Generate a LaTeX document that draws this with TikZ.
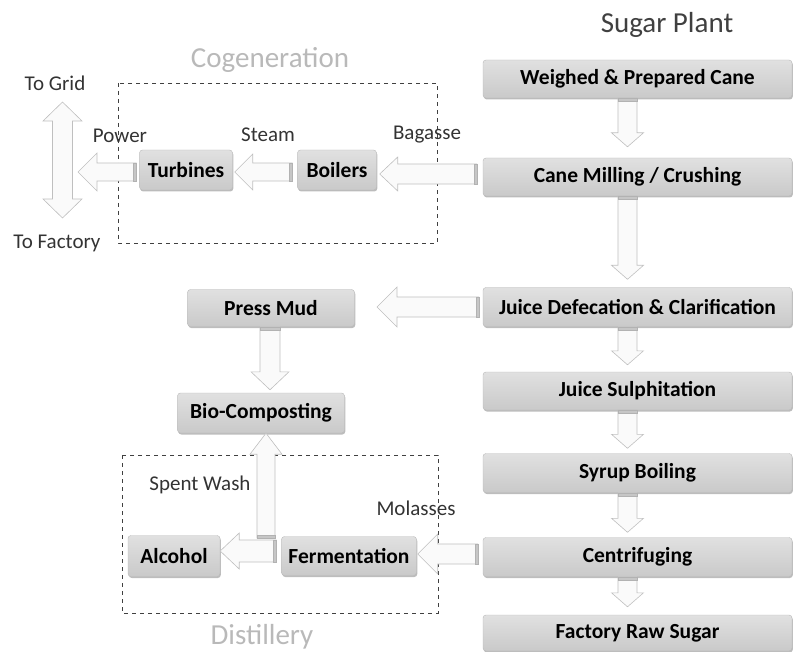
\documentclass[tikz,border=0pt]{standalone}
\usepackage{fontspec}
\setmainfont{Carlito}
\usetikzlibrary{calc,shadows}
\tikzset{
  box/.style={rounded corners=3pt, top color=gray!24, bottom color=gray!42, draw=gray!55,
    drop shadow={shadow xshift=0.8pt, shadow yshift=-1.5pt, fill=gray!65, opacity=0.8},
    font=\fontsize{21.5}{23}\selectfont\bfseries, inner sep=0pt, align=center},
  lbl/.style={font=\fontsize{21}{23}\selectfont, text=black!80, inner sep=0pt},
  ttl/.style={font=\fontsize{29}{31}\selectfont, inner sep=0pt},
  barr/.style={fill=gray!4, draw=gray!50, line width=0.6pt, line join=miter},
  bstripe/.style={fill=gray!45, draw=gray!60, line width=0.4pt},
  zone/.style={draw=black!75, dashed, dash pattern=on 4pt off 4pt, line width=0.9pt}
}
% #1 tail, #2 tip, #3 shaft half, #4 head half, #5 head length, #6 back vector, #7 perpendicular vector
\newcommand\BArrow[7]{%
  \filldraw[barr] ($(#1)+#3*(#7)$) -- ($(#2)+#5*(#6)+#3*(#7)$) -- ($(#2)+#5*(#6)+#4*(#7)$) -- (#2)
    -- ($(#2)+#5*(#6)-#4*(#7)$) -- ($(#2)+#5*(#6)-#3*(#7)$) -- ($(#1)-#3*(#7)$) -- cycle;
  \filldraw[bstripe] ($(#1)+#3*(#7)$) -- ($(#1)+#3*(#7)-3*(#6)$) -- ($(#1)-#3*(#7)-3*(#6)$) -- ($(#1)-#3*(#7)$) -- cycle;
}
\begin{document}
\begin{tikzpicture}[x=1pt,y=-1pt]
\useasboundingbox (0,0) rectangle (795,652);

% zones
\draw[zone] (118,83) rectangle (437,243);
\draw[zone] (122,455) rectangle (438,613);

% titles
\node[ttl, text=black!75] (tsp) at (667,25) {Sugar Plant};
\node[ttl, text=gray!55] (tcg) at (270,60) {Cogeneration};
\node[ttl, text=gray!55] (tds) at (262,637) {Distillery};

% sugar plant chain
\node[box, minimum width=309, minimum height=38] (wpc) at (637.5,79) {Weighed \& Prepared Cane};
\node[box, minimum width=309, minimum height=38] (cmc) at (637.5,177) {Cane Milling / Crushing};
\node[box, minimum width=309, minimum height=39] (jdc) at (637.5,307) {Juice Defecation \& Clarification};
\node[box, minimum width=309, minimum height=38] (jsu) at (637.5,391) {Juice Sulphitation};
\node[box, minimum width=309, minimum height=39] (syb) at (637.5,473) {Syrup Boiling};
\node[box, minimum width=309, minimum height=39] (cen) at (637.5,557) {Centrifuging};
\node[box, minimum width=309, minimum height=36] (frs) at (637.5,633) {Factory Raw Sugar};

% cogeneration
\node[box, minimum width=93, minimum height=40] (tur) at (186,170) {Turbines};
\node[box, minimum width=79, minimum height=40] (boi) at (337,170) {Boilers};

% by-products
\node[box, minimum width=167, minimum height=37] (pmu) at (271,308) {Press Mud};
\node[box, minimum width=167, minimum height=40] (bio) at (261,413) {Bio-Composting};
\node[box, minimum width=92, minimum height=41] (alc) at (174,556) {Alcohol};
\node[box, minimum width=135, minimum height=39] (fer) at (349,556) {Fermentation};

% labels
\node[lbl] (lgrid) at (55,83) {To Grid};
\node[lbl] (lfac) at (57,243) {To Factory};
\node[lbl] (lpow) at (120,136) {Power};
\node[lbl] (lste) at (268,135) {Steam};
\node[lbl] (lbag) at (427,135) {Bagasse};
\node[lbl] (lspw) at (200,485) {Spent Wash};
\node[lbl] (lmol) at (416,508) {Molasses};

% down arrows in the sugar chain
\foreach \a/\b/\g in {wpc/cmc/11, cmc/jdc/8, jdc/jsu/7, jsu/syb/5, syb/cen/5, cen/frs/8}{
  \coordinate (t) at ([xshift=-10pt]\a.south);
  \coordinate (h) at ([xshift=-10pt,yshift=\g pt]\b.north);
  \BArrow{t}{h}{9.5}{16}{14}{0,-1}{1,0}
}

% left arrows
\coordinate (bagT) at ([xshift=-6pt,yshift=3pt]cmc.west);
\coordinate (bagH) at ([xshift=3pt]boi.east |- bagT);
\BArrow{bagT}{bagH}{10}{17}{18}{1,0}{0,1}

\coordinate (steT) at ([xshift=-5pt,yshift=-2pt]boi.west);
\coordinate (steH) at ([xshift=2pt]tur.east |- steT);
\BArrow{steT}{steH}{9}{18}{18}{1,0}{0,1}

\coordinate (powT) at ([xshift=-3pt,yshift=-2pt]tur.west);
\coordinate (powH) at (78,172);
\BArrow{powT}{powH}{9}{19}{19}{1,0}{0,1}

\coordinate (pmT) at ([xshift=-4pt]jdc.west);
\coordinate (pmH) at (377,307);
\BArrow{pmT}{pmH}{10}{20}{20}{1,0}{0,1}

\coordinate (pbT) at ([xshift=-1pt]pmu.south);
\coordinate (pbH) at ([xshift=9pt,yshift=3pt]bio.north);
\BArrow{pbT}{pbH}{10}{19}{18}{0,-1}{1,0}

\coordinate (molT) at ([xshift=-5pt,yshift=3pt]cen.west);
\coordinate (molH) at ([xshift=1pt]fer.east |- molT);
\BArrow{molT}{molH}{10}{20}{20}{1,0}{0,1}

\coordinate (faT) at ([xshift=-5pt,yshift=5pt]fer.west);
\coordinate (faH) at (alc.east |- faT);
\BArrow{faT}{faH}{11}{18}{19}{1,0}{0,1}

% spent wash (up)
\coordinate (swT) at (266,538);
\coordinate (swH) at (bio.south -| swT);
\BArrow{swT}{swH}{9}{16}{21}{0,1}{1,0}

% power distribution double arrow
\coordinate (gT) at (62.5,102);
\coordinate (gB) at (62.5,218);
\filldraw[barr] (gT) -- ++(19.5,19) -- ++(-9.5,0) -- ++(0,78) -- ++(9.5,0) -- (gB) -- ++(-19.5,-19) -- ++(9.5,0) -- ++(0,-78) -- ++(-9.5,0) -- cycle;
\end{tikzpicture}
\end{document}
